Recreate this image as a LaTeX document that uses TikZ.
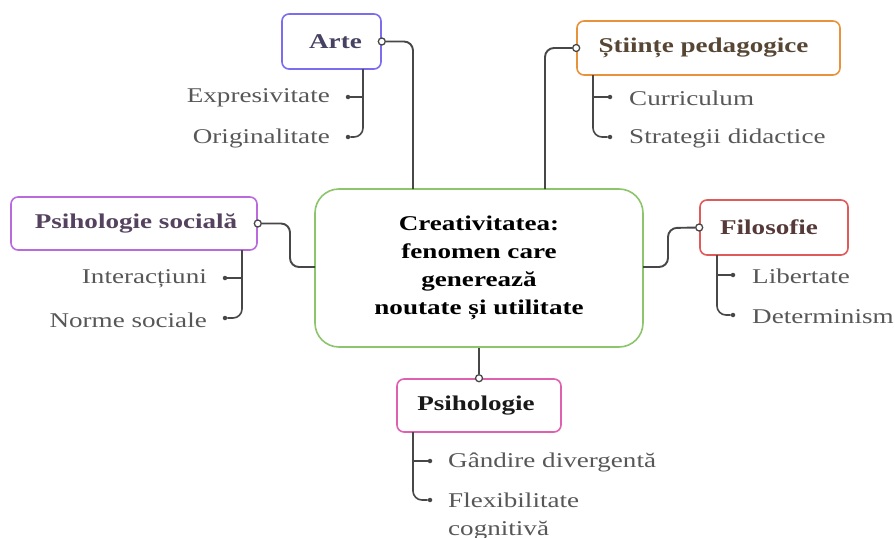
\documentclass[tikz,border=0pt]{standalone}
\usepackage{fontspec}
\setmainfont{Liberation Serif}[FakeStretch=1.29]
\begin{document}
\begin{tikzpicture}[x=1pt,y=-1pt,
  box/.style={draw, line width=1.6pt, rounded corners=7pt, fill=white, inner sep=0pt,
              font=\fontsize{21}{28}\selectfont\bfseries},
  conn/.style={draw=black!72, line width=1.9pt, rounded corners=9pt},
  leafline/.style={draw=black!72, line width=1.6pt, rounded corners=9pt},
  knob/.style={circle, draw=black!72, fill=white, line width=1.3pt, minimum size=7pt, inner sep=0pt},
  dotc/.style={circle, fill=black!72, minimum size=4.5pt, inner sep=0pt},
  leaf/.style={text=black!66, font=\fontsize{21}{28}\selectfont, inner sep=0pt}
]
\useasboundingbox (0,0) rectangle (895,538);
\definecolor{cArte}{HTML}{7B6CF0}
\definecolor{cStiinte}{HTML}{E8933C}
\definecolor{cPsoc}{HTML}{B96BDD}
\definecolor{cFilo}{HTML}{E15A5A}
\definecolor{cCent}{HTML}{8CC56C}
\definecolor{cPsih}{HTML}{E060B0}

% centre
\node[box, draw=cCent, rounded corners=24pt, minimum width=328pt, minimum height=158pt, align=center]
  (center) at (479,268) {Creativitatea:\\fenomen care\\generează\\noutate și utilitate};

% branch boxes
\node[box, draw=cArte, text=cArte!30!black!85, minimum width=99pt, minimum height=55pt] (arte) at (331.5,41.5) {\hspace*{8pt}Arte};
\node[box, draw=cStiinte, text=cStiinte!25!black!85, minimum width=263pt, minimum height=54pt] (stiinte) at (708.5,48) {Științe pedagogice\hspace*{10pt}};
\node[box, draw=cPsoc, text=cPsoc!30!black!85, minimum width=246pt, minimum height=53pt] (psoc) at (134,223.5) {\hspace*{4pt}Psihologie socială};
\node[box, draw=cFilo, text=cFilo!25!black!85, minimum width=148pt, minimum height=55pt] (filo) at (774,227.5) {Filosofie\hspace*{10pt}};
\node[box, draw=cPsih, text=black!90, minimum width=164pt, minimum height=53pt] (psih) at (479,405.5) {Psihologie\hspace*{6pt}};

% knobs
\node[knob] (kArte) at (arte.east) {};
\node[knob] (kStiinte) at (stiinte.west) {};
\node[knob] (kPsoc) at (psoc.east) {};
\node[knob] (kFilo) at (filo.west) {};
\node[knob] (kPsih) at (psih.north) {};

% main connectors
\coordinate (cTopL) at (413,189);
\coordinate (cTopR) at (545,189);
\coordinate (cLeft) at (315,267);
\coordinate (cRight) at (643,267);
\path[conn] (kArte) -| (cTopL);
\path[conn] (kStiinte) -| (cTopR);
\path[conn] (kPsoc) -| (290,267) -- (cLeft);
\path[conn] (cRight) -| (668,228) -- (kFilo);
\path[conn] (center.south) -- (kPsih);

% Arte leaves
\node[leaf, anchor=east] (l1) at (330,98) {Expresivitate};
\node[leaf, anchor=east] (l2) at (330,138) {Originalitate};
\node[dotc] (d1) at (348,97) {};
\node[dotc] (d2) at (348,137) {};
\coordinate (sArte) at (363,69);
\path[leafline] (sArte) |- (d2);
\path[leafline] (363,97) -- (d1);

% Stiinte leaves
\node[leaf, anchor=west] (l3) at (629,98) {Curriculum};
\node[leaf, anchor=west] (l4) at (629,138) {Strategii didactice};
\node[dotc] (d3) at (610,97) {};
\node[dotc] (d4) at (610,137) {};
\coordinate (sStiinte) at (593,75);
\path[leafline] (sStiinte) |- (d4);
\path[leafline] (593,97) -- (d3);

% Psih sociala leaves
\node[leaf, anchor=east] (l5) at (207,279) {Interacțiuni};
\node[leaf, anchor=east] (l6) at (207,320) {Norme sociale};
\node[dotc] (d5) at (225,278) {};
\node[dotc] (d6) at (225,318) {};
\coordinate (sPsoc) at (242,250);
\path[leafline] (sPsoc) |- (d6);
\path[leafline] (242,278) -- (d5);

% Filosofie leaves
\node[leaf, anchor=west] (l7) at (752,276) {Libertate};
\node[leaf, anchor=west] (l8) at (752,317) {Determinism};
\node[dotc] (d7) at (733,275) {};
\node[dotc] (d8) at (733,315) {};
\coordinate (sFilo) at (717,255);
\path[leafline] (sFilo) |- (d8);
\path[leafline] (717,275) -- (d7);

% Psihologie leaves
\node[leaf, anchor=west] (l9) at (448,462) {Gândire divergentă};
\node[leaf, anchor=west, align=left] (l10) at (448,516) {Flexibilitate\\cognitivă};
\node[dotc] (d9) at (430,461) {};
\node[dotc] (d10) at (430,500) {};
\coordinate (sPsih) at (413,432);
\path[leafline] (sPsih) |- (d10);
\path[leafline] (413,461) -- (d9);
\end{tikzpicture}
\end{document}
